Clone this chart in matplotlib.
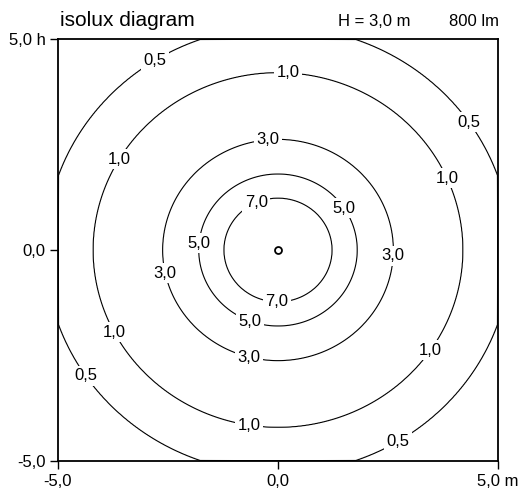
import numpy as np
import matplotlib
matplotlib.use("Agg")
import matplotlib.pyplot as plt

plt.rcParams['font.family'] = ['Liberation Sans', 'DejaVu Sans']

# Isolux levels (lx) and their radii (m)
levels = [0.5, 1.0, 3.0, 5.0, 7.0]
radii = [5.29, 4.2, 2.62, 1.8, 1.23]
center_lux = 9.0
far_lux = 0.2
far_radius = 8.0

# Label positions (m)
label_pos = [(-2.84, 4.57), (4.36, 3.03), (-4.34, -2.96), (2.70, -4.50),
             (0.23, 4.27), (-3.64, 2.18), (3.86, 1.71), (-3.70, -1.94), (3.39, -2.32), (-0.64, -4.12),
             (-0.23, 2.68), (-2.57, -0.55), (2.59, -0.14), (-0.64, -2.49),
             (-1.84, 0.17), (1.55, 1.02), (-0.64, -1.68),
             (-0.52, 1.18), (-0.02, -1.16)]

xticks = [-5.0, 0.0, 5.0]
xticklabels = ['-5,0', '0,0', '5,0 m']
yticks = [-5.0, 0.0, 5.0]
yticklabels = ['-5,0', '0,0', '5,0 h']

title = 'isolux diagram'
height_txt = 'H = 3,0 m'
flux_txt = '800 lm'

# Build radial field from the arrays
r_pts = np.array([0.0] + radii[::-1] + [far_radius])
e_pts = np.array([center_lux] + levels[::-1] + [far_lux])
n = 801
g = np.linspace(-5, 5, n)
X, Y = np.meshgrid(g, g)
R = np.hypot(X, Y)
E = np.interp(R, r_pts, e_pts)
# area outside the plan (drawn along the frame)
E[0, :] = 0
E[-1, :] = 0
E[:, 0] = 0
E[:, -1] = 0

fig = plt.figure(figsize=(5.2, 4.95), dpi=100)
ax = fig.add_axes([58 / 520, 34 / 495, 440 / 520, 422 / 495])

cs = ax.contour(X, Y, E, levels=levels, colors='black', linewidths=0.8)
texts = ax.clabel(cs, inline=False, manual=label_pos, fontsize=12,
                  fmt=lambda v: f'{v:.1f}'.replace('.', ','))
for t in texts:
    t.set_rotation(0)
    t.set_bbox(dict(boxstyle='square,pad=0.15', facecolor='white', edgecolor='none'))

ax.plot([0], [0], marker='o', markersize=5, markerfacecolor='white',
        markeredgecolor='black', markeredgewidth=1.3, zorder=5)

ax.set_xlim(-5, 5)
ax.set_ylim(-5, 5)
ax.set_xticks(xticks)
ax.set_xticklabels(xticklabels)
ax.set_yticks(yticks)
ax.set_yticklabels(yticklabels)
ax.tick_params(direction='out', length=6, width=1, pad=3, labelsize=12)
for s in ax.spines.values():
    s.set_linewidth(1.3)

fig.text(60 / 520, 1 - 26 / 495, title, fontsize=15, ha='left', va='baseline')
fig.text(410 / 520, 1 - 26 / 495, height_txt, fontsize=12, ha='right', va='baseline')
fig.text(499 / 520, 1 - 26 / 495, flux_txt, fontsize=12, ha='right', va='baseline')

fig.savefig('out.png', dpi=100)
